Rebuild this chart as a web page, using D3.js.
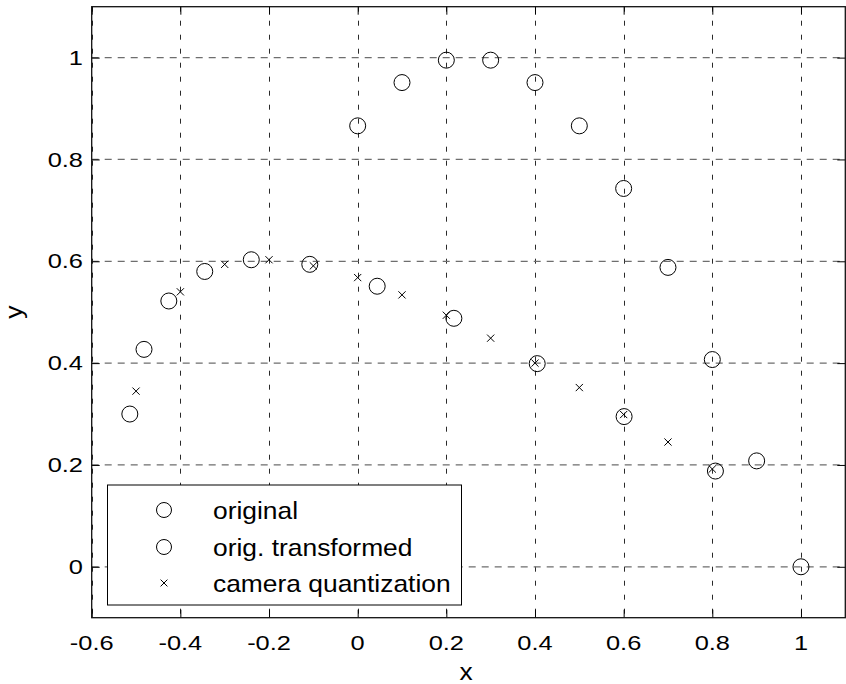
<!DOCTYPE html>
<html>
<head>
<meta charset="utf-8">
<script src="https://cdn.jsdelivr.net/npm/d3@7"></script>
<style>
  html, body { margin: 0; padding: 0; background: #fff; }
  svg { display: block; }
  text { font-family: "Liberation Sans", Arial, sans-serif; fill: #000; }
</style>
</head>
<body>
<svg id="chart" width="846" height="684"></svg>
<script>
// Points on the original curve
const origX = [0, 0.1, 0.2, 0.3, 0.4, 0.5, 0.6, 0.7, 0.8, 0.9, 1];
const origY = [0.866, 0.951, 0.995, 0.995, 0.951, 0.866, 0.743, 0.588, 0.407, 0.208, 0];

// The same points after the transformation
const transX = [-0.514, -0.482, -0.426, -0.345, -0.240, -0.108, 0.044, 0.217, 0.405, 0.601, 0.807];
const transY = [0.300, 0.427, 0.522, 0.580, 0.603, 0.594, 0.551, 0.488, 0.399, 0.295, 0.188];

// Camera-quantized samples
const camX = [-0.5, -0.4, -0.3, -0.2, -0.1, 0, 0.1, 0.2, 0.3, 0.4, 0.5, 0.6, 0.7, 0.8];
const camY = [0.345, 0.540, 0.594, 0.603, 0.591, 0.568, 0.534, 0.494, 0.449, 0.400, 0.352, 0.299, 0.245, 0.192];

const xTicks = [-0.6, -0.4, -0.2, 0, 0.2, 0.4, 0.6, 0.8, 1];
const xTickLabels = ["-0.6", "-0.4", "-0.2", "0", "0.2", "0.4", "0.6", "0.8", "1"];
const yTicks = [0, 0.2, 0.4, 0.6, 0.8, 1];
const yTickLabels = ["0", "0.2", "0.4", "0.6", "0.8", "1"];

const legendLabels = ["original", "orig. transformed", "camera quantization"];
const legendMarkers = ["circle", "circle", "cross"];

const svg = d3.select("#chart");
const plot = { left: 91.7, right: 845.3, top: 6.7, bottom: 617.7 };

const x = d3.scaleLinear().domain([-0.6, 1.1]).range([plot.left, plot.right]);
const y = d3.scaleLinear().domain([-0.1, 1.1]).range([plot.bottom, plot.top]);

// text that is drawn slightly wide, as in the exported figure
function wideText(g, str, tx, ty, size, sx, anchor, rot) {
  return g.append("text")
    .attr("transform", `translate(${tx},${ty})` + (rot ? ` rotate(${rot})` : "") + ` scale(${sx},1)`)
    .attr("font-size", size)
    .attr("text-anchor", anchor || "start")
    .text(str);
}

// grid
const grid = svg.append("g");
grid.selectAll("line.vg").data(xTicks).join("line")
  .attr("class", "vg")
  .attr("x1", d => Math.round(x(d)) + 0.5).attr("x2", d => Math.round(x(d)) + 0.5)
  .attr("y1", plot.top).attr("y2", plot.bottom)
  .attr("stroke", "#2a2a2a").attr("stroke-width", 1)
  .attr("stroke-dasharray", "5,9");
grid.selectAll("line.hg").data(yTicks).join("line")
  .attr("class", "hg")
  .attr("x1", plot.left).attr("x2", plot.right)
  .attr("y1", d => y(d)).attr("y2", d => y(d))
  .attr("stroke", "#6e6e6e").attr("stroke-width", 1.3)
  .attr("stroke-dasharray", "7,6");

// axes with inward ticks on all four sides
const tickLen = 8;
const axB = svg.append("g").attr("transform", `translate(0,${plot.bottom})`)
  .call(d3.axisBottom(x).tickValues(xTicks).tickSize(-tickLen).tickFormat(""));
const axT = svg.append("g").attr("transform", `translate(0,${plot.top})`)
  .call(d3.axisTop(x).tickValues(xTicks).tickSize(-tickLen).tickFormat(""));
const axL = svg.append("g").attr("transform", `translate(${plot.left},0)`)
  .call(d3.axisLeft(y).tickValues(yTicks).tickSize(-tickLen).tickFormat(""));
const axR = svg.append("g").attr("transform", `translate(${plot.right},0)`)
  .call(d3.axisRight(y).tickValues(yTicks).tickSize(-tickLen).tickFormat(""));
[axB, axT, axL, axR].forEach(a => {
  a.select(".domain").remove();
  a.selectAll(".tick line").attr("stroke", "#000").attr("stroke-width", 1);
});

// axes box
svg.append("rect")
  .attr("x", plot.left).attr("y", plot.top)
  .attr("width", plot.right - plot.left).attr("height", plot.bottom - plot.top)
  .attr("fill", "none").attr("stroke", "#111").attr("stroke-width", 1.3);

// tick labels
const labels = svg.append("g");
xTicks.forEach((v, i) => wideText(labels, xTickLabels[i], x(v), 649.5, 20, 1.27, "middle"));
yTicks.forEach((v, i) => wideText(labels, yTickLabels[i], 83, y(v) + 7.2, 20, 1.27, "end"));

// axis labels
wideText(svg, "x", 466, 680, 24, 1.1, "middle");
wideText(svg, "y", 22, y(0.5), 24, 1.1, "middle", -90);

// markers
const R = 8, C = 3.6;
const marks = svg.append("g").attr("fill", "none").attr("stroke", "#000").attr("stroke-width", 1);
const circ = (g, data) => g.selectAll(null).data(data).join("circle")
  .attr("cx", d => x(d[0])).attr("cy", d => y(d[1])).attr("r", R);
circ(marks.append("g"), origX.map((v, i) => [v, origY[i]]));
circ(marks.append("g"), transX.map((v, i) => [v, transY[i]]));
marks.append("g").selectAll("path").data(camX.map((v, i) => [v, camY[i]])).join("path")
  .attr("d", d => {
    const px = x(d[0]), py = y(d[1]);
    return `M${px - C},${py - C}L${px + C},${py + C}M${px - C},${py + C}L${px + C},${py - C}`;
  });

// legend
const leg = svg.append("g");
leg.append("rect")
  .attr("x", 107.5).attr("y", 485).attr("width", 354).attr("height", 120)
  .attr("fill", "#fff").attr("stroke", "#000").attr("stroke-width", 1);
const rowY = [510, 547, 583];
legendLabels.forEach((lab, i) => {
  const cy = rowY[i];
  if (legendMarkers[i] === "circle") {
    leg.append("circle").attr("cx", 164).attr("cy", cy).attr("r", 7.5)
      .attr("fill", "none").attr("stroke", "#000").attr("stroke-width", 1);
  } else {
    const c = 3.4;
    leg.append("path")
      .attr("d", `M${164 - c},${cy - c}L${164 + c},${cy + c}M${164 - c},${cy + c}L${164 + c},${cy - c}`)
      .attr("fill", "none").attr("stroke", "#000").attr("stroke-width", 1);
  }
  wideText(leg, lab, 213, cy + 8.5, 24, 1.1, "start");
});
</script>
</body>
</html>
